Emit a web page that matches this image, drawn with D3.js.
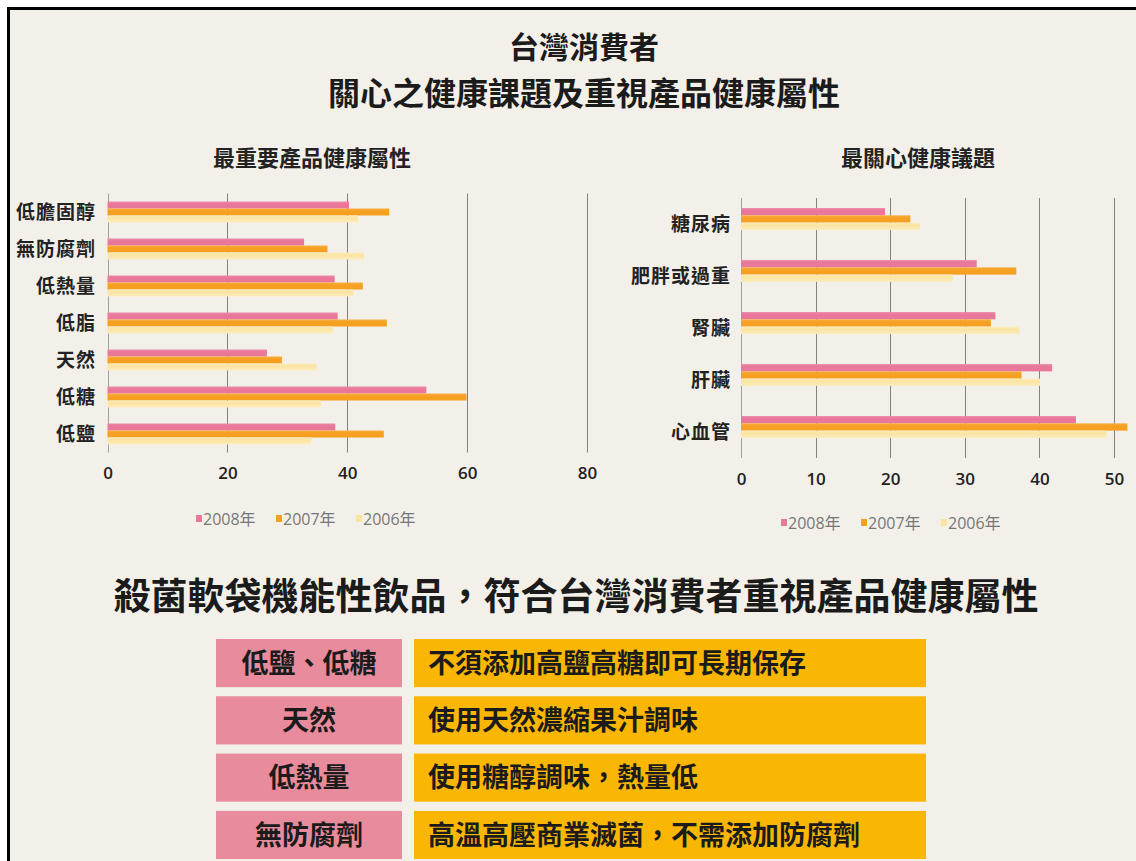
<!DOCTYPE html>
<html>
<head>
<meta charset="utf-8">
<script src="https://cdn.jsdelivr.net/npm/d3@7"></script>
<style>
  body { margin: 0; background: #fff; }
  svg { display: block; }
</style>
</head>
<body>
<script>
// values
const years = ["2008年", "2007年", "2006年"];
const yearColors = ["#e8779a", "#f6a021", "#fbe4a0"];

const leftCats = ["低膽固醇", "無防腐劑", "低熱量", "低脂", "天然", "低糖", "低鹽"];
const left2008 = [40.3, 32.8, 37.9, 38.4, 26.6, 53.2, 38.0];
const left2007 = [47.0, 36.7, 42.6, 46.6, 29.1, 59.9, 46.1];
const left2006 = [41.8, 42.8, 41.0, 37.6, 34.9, 35.6, 34.0];
const leftTicks = [0, 20, 40, 60, 80];

const rightCats = ["糖尿病", "肥胖或過重", "腎臟", "肝臟", "心血管"];
const right2008 = [19.3, 31.6, 34.1, 41.7, 44.9];
const right2007 = [22.7, 36.9, 33.5, 37.6, 51.8];
const right2006 = [24.0, 28.4, 37.3, 40.1, 49.0];
const rightTicks = [0, 10, 20, 30, 40, 50];

const attrs = ["低鹽、低糖", "天然", "低熱量", "無防腐劑"];
const benefits = ["不須添加高鹽高糖即可長期保存", "使用天然濃縮果汁調味", "使用糖醇調味，熱量低", "高溫高壓商業滅菌，不需添加防腐劑"];

const width = 1136, height = 861;
const cjk = "'Noto Sans CJK TC', 'Noto Sans CJK SC', sans-serif";

const svg = d3.select("body").append("svg")
    .attr("width", width)
    .attr("height", height)
    .attr("viewBox", [0, 0, width, height]);

// paper + frame
svg.append("rect").attr("x", 8).attr("y", 8).attr("width", width - 8).attr("height", height - 8)
    .attr("fill", "#f3f0e9");
svg.append("path").attr("d", `M8.5,${height} V8.5 H${width}`)
    .attr("fill", "none").attr("stroke", "#000").attr("stroke-width", 3);

// titles
svg.append("text").attr("x", 584).attr("y", 58).attr("text-anchor", "middle")
    .attr("font-family", cjk).attr("font-weight", 700).attr("font-size", 30).attr("fill", "#1b1b1b")
    .text("台灣消費者");
svg.append("text").attr("x", 584).attr("y", 105).attr("text-anchor", "middle")
    .attr("font-family", cjk).attr("font-weight", 700).attr("font-size", 32).attr("fill", "#1b1b1b")
    .text("關心之健康課題及重視產品健康屬性");

// soft vertical gradients for the bars
const defs = svg.append("defs");
yearColors.forEach((c, k) => {
  const lg = defs.append("linearGradient").attr("id", `grad${k}`)
      .attr("x1", 0).attr("y1", 0).attr("x2", 0).attr("y2", 1);
  const light = d3.interpolateRgb(c, "#fff")(k === 2 ? 0.3 : 0.15);
  lg.append("stop").attr("offset", "0%").attr("stop-color", light);
  lg.append("stop").attr("offset", "35%").attr("stop-color", c);
  lg.append("stop").attr("offset", "100%").attr("stop-color", k === 2 ? light : c);
});

function barChart(cats, series, ticks, opts) {
  const {x0, x1, y0, y1, title, titleX, tickY, legendX, legendY, barH, barShift, labelX} = opts;
  const g = svg.append("g");

  const x = d3.scaleLinear().domain([ticks[0], ticks[ticks.length - 1]]).range([x0, x1]);
  const y = d3.scaleBand().domain(cats).range([y0, y1]);
  const sub = d3.scaleBand().domain(years).range([0, barH * 3]);

  // gridlines
  g.append("g")
    .selectAll("line")
    .data(ticks)
    .join("line")
      .attr("x1", d => Math.round(x(d)) + 0.5)
      .attr("x2", d => Math.round(x(d)) + 0.5)
      .attr("y1", y0)
      .attr("y2", y1)
      .attr("stroke", d => d === 0 ? "#a0a0a0" : "#808080")
      .attr("stroke-width", 1);

  // bars
  const rows = cats.map((c, i) => ({cat: c, vals: series.map(s => s[i])}));
  g.append("g")
    .selectAll("g")
    .data(rows)
    .join("g")
      .attr("transform", d => `translate(0,${y(d.cat) + y.bandwidth() / 2 - barH * 1.5 + barShift})`)
    .selectAll("rect")
    .data(d => d.vals.map((v, k) => ({year: years[k], v, k})))
    .join("rect")
      .attr("x", x(0))
      .attr("y", d => sub(d.year))
      .attr("width", d => x(d.v) - x(0))
      .attr("height", sub.bandwidth())
      .attr("fill", d => `url(#grad${d.k})`);

  // category labels
  g.append("g")
    .selectAll("text")
    .data(cats)
    .join("text")
      .attr("x", labelX)
      .attr("y", d => y(d) + y.bandwidth() / 2)
      .attr("dy", "0.36em")
      .attr("text-anchor", "end")
      .attr("font-family", cjk)
      .attr("font-weight", 700)
      .attr("font-size", 19)
      .attr("letter-spacing", 1)
      .attr("fill", "#222")
      .text(d => d);

  // tick labels
  const axis = d3.axisBottom(x).tickValues(ticks).tickSize(0).tickPadding(0);
  g.append("g")
      .attr("transform", `translate(0,${tickY})`)
      .call(axis)
      .call(a => a.select(".domain").remove())
      .call(a => a.selectAll("text")
        .attr("font-family", "'Open Sans', sans-serif")
        .attr("font-weight", 600)
        .attr("font-size", 17)
        .attr("fill", "#222"));

  // subtitle
  svg.append("text").attr("x", titleX).attr("y", 166).attr("text-anchor", "middle")
      .attr("font-family", cjk).attr("font-weight", 700).attr("font-size", 22).attr("fill", "#222")
      .text(title);

  // legend
  const lg = g.append("g").attr("transform", `translate(${legendX},${legendY})`);
  const item = lg.selectAll("g")
    .data(years)
    .join("g")
      .attr("transform", (d, i) => `translate(${i * 80},0)`);
  item.append("rect")
      .attr("x", 0).attr("y", -4).attr("width", 6).attr("height", 7)
      .attr("fill", (d, i) => yearColors[i]);
  item.append("text")
      .attr("x", 7).attr("y", 0).attr("dy", "0.36em")
      .attr("font-family", "'Open Sans', " + cjk)
      .attr("font-size", 16)
      .attr("fill", "#777")
      .text(d => d);
}

barChart(leftCats, [left2008, left2007, left2006], leftTicks, {
  x0: 107.5, x1: 587, y0: 193.5, y1: 452.5, title: "最重要產品健康屬性", titleX: 312,
  tickY: 467, legendX: 196, legendY: 519, barH: 7, barShift: 0, labelX: 96
});

barChart(rightCats, [right2008, right2007, right2006], rightTicks, {
  x0: 741, x1: 1114, y0: 198, y1: 458, title: "最關心健康議題", titleX: 918,
  tickY: 473, legendX: 781, legendY: 523, barH: 7.3, barShift: -5, labelX: 731
});

// bottom heading
svg.append("text").attr("x", 576).attr("y", 610).attr("text-anchor", "middle")
    .attr("font-family", cjk).attr("font-weight", 700).attr("font-size", 37).attr("fill", "#1b1b1b")
    .text("殺菌軟袋機能性飲品，符合台灣消費者重視產品健康屬性");

// table
const ty = d3.scaleBand().domain(attrs).range([639, 859]).paddingInner(0.16);
const trow = svg.append("g").selectAll("g")
  .data(attrs.map((a, i) => ({a, b: benefits[i]})))
  .join("g")
    .attr("transform", d => `translate(0,${ty(d.a)})`);

trow.append("rect")
    .attr("x", 216).attr("width", 186).attr("height", ty.bandwidth())
    .attr("fill", "#e88b9c");
trow.append("rect")
    .attr("x", 414).attr("width", 512).attr("height", ty.bandwidth())
    .attr("fill", "#f9b602");
trow.append("text")
    .attr("x", 309).attr("y", ty.bandwidth() / 2).attr("dy", "0.36em")
    .attr("text-anchor", "middle")
    .attr("font-family", cjk).attr("font-weight", 700).attr("font-size", 27).attr("fill", "#1b1b1b")
    .text(d => d.a);
trow.append("text")
    .attr("x", 428).attr("y", ty.bandwidth() / 2).attr("dy", "0.36em")
    .attr("font-family", cjk).attr("font-weight", 700).attr("font-size", 27).attr("fill", "#1b1b1b")
    .text(d => d.b);
</script>
</body>
</html>
